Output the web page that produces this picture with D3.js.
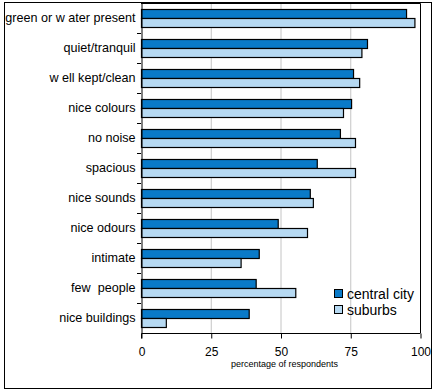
<!DOCTYPE html>
<html>
<head>
<meta charset="utf-8">
<script src="https://cdn.jsdelivr.net/npm/d3@7"></script>
<style>
  body { margin: 0; background: #fff; }
  text { font-family: "Liberation Sans", Arial, sans-serif; fill: #000; white-space: pre; }
</style>
</head>
<body>
<div id="chart"></div>
<script>
// data
const categories = ["green or w ater present", "quiet/tranquil", "w ell kept/clean", "nice colours",
  "no noise", "spacious", "nice sounds", "nice odours", "intimate", "few  people", "nice buildings"];
const centralCity = [95, 81, 76, 75.3, 71.3, 63, 60.5, 49, 42.2, 41.1, 38.6];
const suburbs = [98, 79, 78.2, 72.4, 76.7, 76.7, 61.6, 59.5, 35.7, 55.3, 8.9];
const seriesNames = ["central city", "suburbs"];
const xTicks = [0, 25, 50, 75, 100];

const colors = ["#0a7ac8", "#b6d9f2"];
const width = 435, height = 392;
const margin = { top: 3, right: 15, bottom: 59, left: 141 };

const svg = d3.select("#chart").append("svg")
  .attr("width", width)
  .attr("height", height);

// outer frame
svg.append("rect")
  .attr("x", 4.5).attr("y", 2.5)
  .attr("width", 427).attr("height", 386)
  .attr("fill", "#fff").attr("stroke", "#000").attr("stroke-width", 1);

const x = d3.scaleLinear().domain([0, 100]).range([margin.left, width - margin.right]);
const y = d3.scaleBand().domain(categories)
  .range([margin.top, height - margin.bottom])
  .paddingInner(0.4).paddingOuter(0.2);
const sub = d3.scaleBand().domain(seriesNames).range([0, y.bandwidth()]);

// grid lines
svg.selectAll(".grid")
  .data(xTicks.filter(d => d > 0 && d < 100))
  .enter().append("line")
    .attr("x1", d => x(d) + 0.5).attr("x2", d => x(d) + 0.5)
    .attr("y1", margin.top).attr("y2", height - margin.bottom)
    .attr("stroke", "#c4c4c4").attr("stroke-width", 1);

// plot frame (top and right)
svg.append("path")
  .attr("d", `M${margin.left},${margin.top + 0.5}H${x(100) + 0.5}V${height - margin.bottom}`)
  .attr("fill", "none").attr("stroke", "#000");

// bars
const rows = categories.map((c, i) => ({ cat: c, vals: [centralCity[i], suburbs[i]] }));
const g = svg.selectAll(".row").data(rows).enter().append("g")
  .attr("transform", d => `translate(0,${y(d.cat)})`);
g.selectAll("rect")
  .data(d => d.vals.map((v, j) => ({ name: seriesNames[j], v, j })))
  .enter().append("rect")
    .attr("x", x(0) + 0.5)
    .attr("y", d => sub(d.name) + 0.5)
    .attr("width", d => x(d.v) - x(0))
    .attr("height", sub.bandwidth())
    .attr("fill", d => colors[d.j])
    .attr("stroke", "#000").attr("stroke-width", 1.2);

// axes
const yAxis = svg.append("g")
  .attr("transform", `translate(${margin.left + 0.5},0)`)
  .call(d3.axisLeft(y).tickSize(0).tickPadding(6));
yAxis.select(".domain").attr("stroke", "#000");
yAxis.selectAll("text").attr("font-size", 12.6).attr("font-family", "Liberation Sans, Arial, sans-serif");
// y tick marks between categories
svg.selectAll(".ytick")
  .data(d3.range(1, categories.length))
  .enter().append("line")
    .attr("x1", margin.left - 4).attr("x2", margin.left)
    .attr("y1", d => margin.top + d * y.step() + 0.5)
    .attr("y2", d => margin.top + d * y.step() + 0.5)
    .attr("stroke", "#000");

const xAxis = svg.append("g")
  .attr("transform", `translate(0.5,${height - margin.bottom + 0.5})`)
  .call(d3.axisBottom(x).tickValues(xTicks).tickSize(5).tickPadding(9));
xAxis.select(".domain").attr("d", `M${x(0)},5V0H${x(100)}`).attr("stroke", "#000");
xAxis.selectAll("text").attr("font-size", 12).attr("font-family", "Liberation Sans, Arial, sans-serif");

svg.append("text")
  .attr("x", (x(0) + x(100)) / 2 + 4)
  .attr("y", 367)
  .attr("text-anchor", "middle")
  .attr("font-size", 9)
  .text("percentage of respondents");

// legend
const legend = svg.append("g").attr("transform", "translate(334,289)");
const li = legend.selectAll("g").data(seriesNames).enter().append("g")
  .attr("transform", (d, i) => `translate(0,${i * 16})`);
li.append("rect")
  .attr("x", 0.5).attr("y", 0.5).attr("width", 8).attr("height", 8)
  .attr("fill", (d, i) => colors[i]).attr("stroke", "#000");
li.append("text")
  .attr("x", 13).attr("y", 9.5)
  .attr("font-size", 14)
  .text(d => d);
</script>
</body>
</html>
